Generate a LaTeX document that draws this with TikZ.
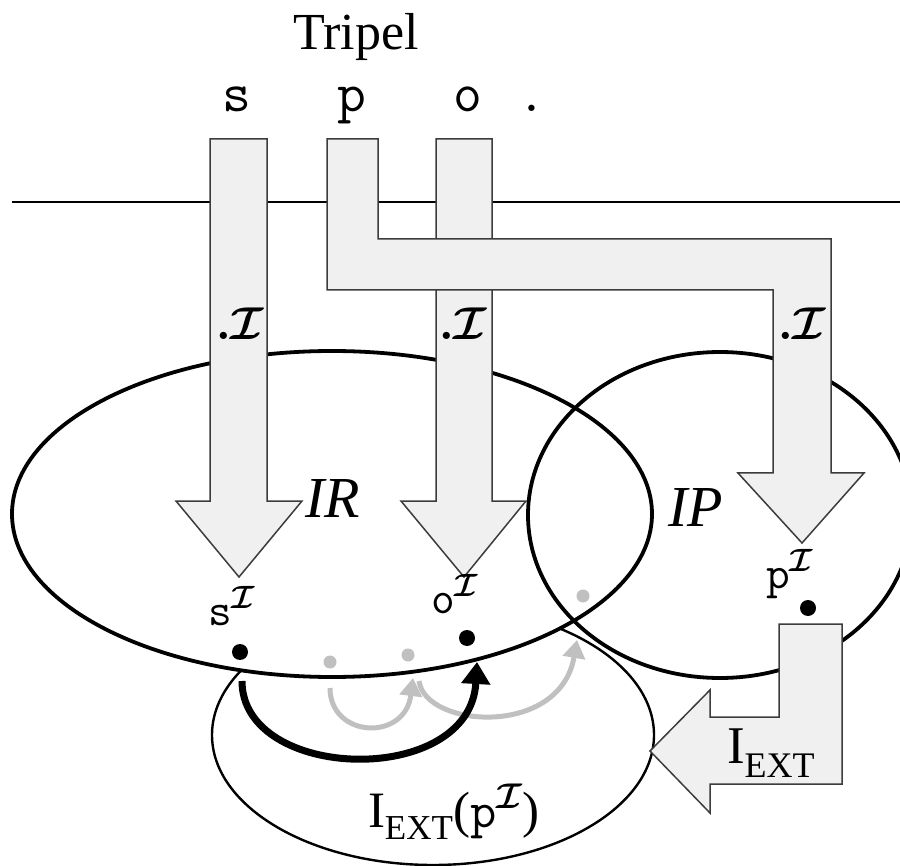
\RequirePackage{fix-cm}
\documentclass[tikz,border=0pt]{standalone}
\usepackage{fontspec}
\setmainfont{Liberation Serif}
\usepackage{bm}
\usetikzlibrary{arrows.meta,shapes.geometric}
\definecolor{afill}{RGB}{240,240,240}
\definecolor{aline}{RGB}{60,60,60}
\definecolor{lgrey}{RGB}{192,192,192}
\newcommand{\calI}{\bm{\mathcal{I}}}
\tikzset{
  bigarrow/.style={fill=afill, draw=aline, line width=1.5pt, line join=miter},
  setell/.style={ellipse, draw, line width=3.8pt, inner sep=0pt},
  extell/.style={ellipse, draw, line width=2.4pt, inner sep=0pt},
  bdot/.style={circle, fill=black, inner sep=0pt, minimum size=16pt},
  gdot/.style={circle, fill=lgrey, inner sep=0pt, minimum size=13pt},
  blackarc/.style={line width=7pt, -{Triangle[length=22pt,width=28pt]}},
  greyarc/.style={line width=5pt, draw=lgrey, -{Triangle[length=18pt,width=22pt]}},
  lbl/.style={inner sep=0pt, outer sep=0pt},
}
\begin{document}
\begin{tikzpicture}[x=1pt,y=-1pt]
\useasboundingbox (0,0) rectangle (900,866);
% horizontal line
\coordinate (hl) at (12,202);
\coordinate (hr) at (900,202);
\draw[line width=1.6pt] (hl) -- (hr);
% extension ellipse
\node[extell, minimum width=442pt, minimum height=260pt] (IE) at (433,735) {};
% white interiors of IR and IP
\fill[white] (332,514) ellipse [x radius=320pt, y radius=163pt];
\fill[white] (720,515) ellipse [x radius=192pt, y radius=163pt];
\node[setell, minimum width=640pt, minimum height=326pt] (IR) at (332,514) {};
\node[setell, minimum width=384pt, minimum height=326pt] (IP) at (720,515) {};
% big arrows
\draw[bigarrow] (210,139) -- (267,139) -- (267,501) -- (302,501) -- (239,577) -- (176,501) -- (210,501) -- cycle;
\draw[bigarrow] (436,139) -- (492,139) -- (492,501) -- (526,501) -- (464,577) -- (401,501) -- (436,501) -- cycle;
\draw[bigarrow] (327,139) -- (378,139) -- (378,239) -- (831,239) -- (831,473) -- (864,473) -- (802,543) -- (738,473) -- (773,473) -- (773,290) -- (327,290) -- cycle;
\draw[bigarrow] (779,624) -- (842,624) -- (842,784) -- (710,784) -- (710,813) -- (650,751) -- (710,690) -- (710,717) -- (779,717) -- cycle;
% dots
\node[bdot] (sd) at (240,652) {};
\node[bdot] (od) at (467,638) {};
\node[bdot] (pd) at (808,608) {};
\node[gdot] (g1) at (330,662) {};
\node[gdot] (g2) at (408,655) {};
\node[gdot] (g3) at (583,596) {};
% curved arrows
\coordinate (b0) at (242,681);
\coordinate (b1) at (477,662);
\coordinate (c0) at (330,688);
\coordinate (c1) at (413,678);
\coordinate (d0) at (419,681);
\coordinate (d1) at (577,640);
\draw[greyarc] (c0) .. controls (330,738) and (405,742) .. (c1);
\draw[greyarc] (d0) .. controls (425,728) and (560,738) .. (d1);
\draw[blackarc] (b0) .. controls (242,782) and (470,788) .. (b1);
% texts
\node[lbl, anchor=base, font=\fontsize{52}{60}\selectfont] (tri) at (356,50) {Tripel};
\node[lbl, anchor=base, font=\fontsize{56}{64}\selectfont\ttfamily] (ts) at (237,112) {s};
\node[lbl, anchor=base, font=\fontsize{56}{64}\selectfont\ttfamily] (tp) at (352,112) {p};
\node[lbl, anchor=base, font=\fontsize{56}{64}\selectfont\ttfamily] (to) at (468,112) {o};
\node[lbl, anchor=base, font=\fontsize{56}{64}\selectfont\ttfamily] (tdot) at (532,112) {.};
\node[lbl, anchor=base, font=\fontsize{46}{52}\selectfont] (is) at (240,340) {$\bm{.}\calI$};
\node[lbl, anchor=base, font=\fontsize{46}{52}\selectfont] (io) at (463,340) {$\bm{.}\calI$};
\node[lbl, anchor=base, font=\fontsize{46}{52}\selectfont] (ip) at (802,340) {$\bm{.}\calI$};
\node[lbl, anchor=base west, font=\fontsize{58}{64}\selectfont\itshape] (lIR) at (305,517) {IR};
\node[lbl, anchor=base west, font=\fontsize{58}{64}\selectfont\itshape] (lIP) at (668,526) {IP};
\node[lbl, anchor=base west, font=\fontsize{46}{52}\selectfont] (ls) at (208,625) {\texttt{s}$^{\calI}$};
\node[lbl, anchor=base west, font=\fontsize{46}{52}\selectfont] (lo) at (431,613) {\texttt{o}$^{\calI}$};
\node[lbl, anchor=base west, font=\fontsize{46}{52}\selectfont] (lp) at (766,588) {\texttt{p}$^{\calI}$};
\node[lbl, anchor=base west, font=\fontsize{53}{60}\selectfont] (lext) at (727,763) {I\raisebox{-14pt}{\fontsize{36}{40}\selectfont EXT}};
\node[lbl, anchor=base west, font=\fontsize{51}{60}\selectfont] (lextp) at (368,827) {I\raisebox{-12pt}{\fontsize{35}{40}\selectfont EXT}(\texttt{p}$^{\calI}$)};
\end{tikzpicture}
\end{document}
